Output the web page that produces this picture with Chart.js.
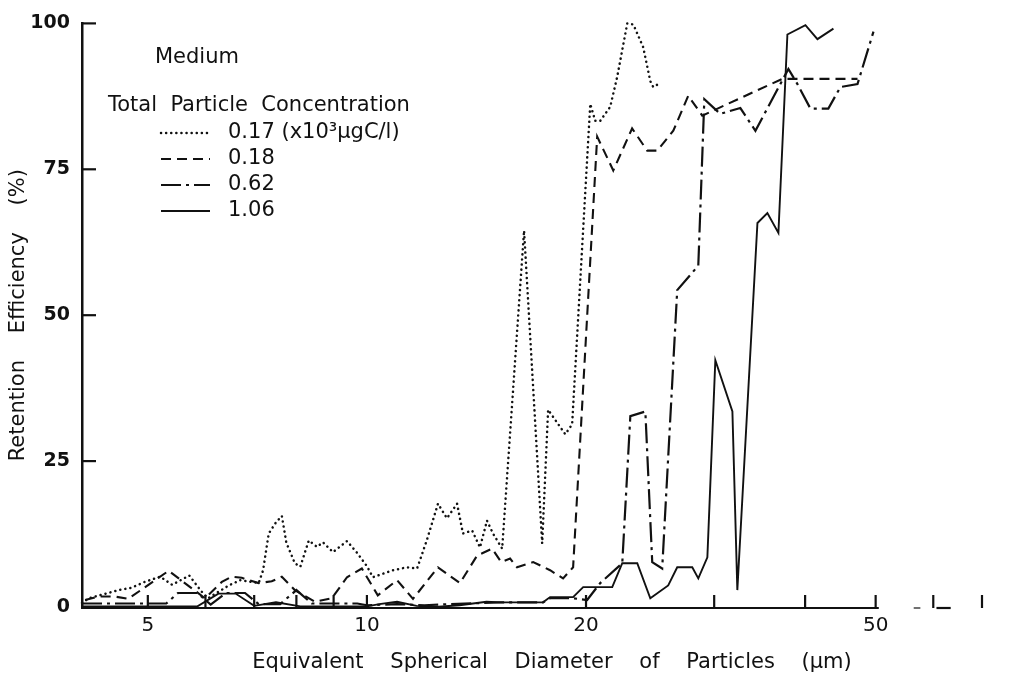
<!DOCTYPE html>
<html>
<head>
<meta charset="utf-8">
<script src="https://cdn.jsdelivr.net/npm/chart.js@4/dist/chart.umd.min.js"></script>
<style>
html,body{margin:0;padding:0;background:#ffffff;}
#wrap{width:1016px;height:680px;position:relative;}
canvas{display:block;}
</style>
</head>
<body>
<div id="wrap"><canvas id="c" width="1016" height="680"></canvas></div>
<script>
// ---- data ----
const conc017X = [4.06, 4.15, 4.56, 4.75, 4.95, 5.2, 5.4, 5.7, 5.93, 6.05, 6.46, 6.7, 7.1, 7.2, 7.33, 7.5, 7.64, 7.75, 7.96, 8.1, 8.32, 8.54, 8.7, 8.98, 9.39, 9.69, 10.0, 10.19, 10.86, 11.35, 11.72, 12.09, 12.52, 12.88, 13.3, 13.55, 13.95, 14.3, 14.62, 14.9, 15.34, 16.44, 17.41, 17.74, 18.73, 19.14, 20.27, 20.59, 20.92, 21.59, 22.07, 22.79, 23.23, 23.97, 24.51, 24.74, 25.13];
const conc017Y = [0.7, 1.5, 2.9, 3.3, 4.3, 5.2, 3.8, 5.4, 2.6, 1.5, 3.7, 4.6, 4.1, 6.3, 12.6, 14.5, 15.6, 11.0, 7.5, 6.9, 11.4, 10.3, 11.1, 9.4, 11.3, 9.3, 7.0, 5.1, 6.3, 6.8, 6.6, 11.5, 17.7, 15.2, 17.7, 12.6, 13.1, 10.2, 14.8, 12.6, 10.0, 64.5, 10.9, 33.8, 29.6, 31.3, 86.2, 83.3, 83.3, 85.7, 90.8, 100, 99.8, 95.9, 90.1, 89.1, 89.6];

const conc018X = [4.1, 4.28, 4.50, 4.70, 5.34, 5.99, 6.32, 6.52, 6.73, 7.10, 7.40, 7.64, 7.96, 8.48, 8.95, 9.39, 9.84, 10.35, 11.0, 11.57, 12.52, 13.42, 14.17, 14.86, 15.29, 15.73, 16.08, 16.92, 17.85, 18.60, 19.20, 20.72, 21.80, 23.14, 24.27, 25.06, 26.36, 27.64, 28.89, 37.23, 47.21];
const conc018Y = [1.2, 1.8, 1.8, 1.4, 6.2, 1.5, 4.3, 5.2, 5.0, 4.1, 4.4, 5.2, 2.9, 0.9, 1.5, 5.1, 6.6, 2.0, 4.6, 1.4, 6.8, 4.1, 8.8, 10.0, 7.7, 8.3, 6.8, 7.7, 6.3, 4.9, 6.8, 80.6, 74.8, 82.0, 78.2, 78.2, 81.6, 87.6, 84.2, 90.5, 90.5];

const conc062X = [4.06, 5.3, 5.5, 5.85, 6.1, 6.4, 6.8, 7.1, 7.6, 8.0, 8.4, 9.7, 10.0, 11.0, 12.0, 13.0, 15.24, 17.46, 17.85, 19.2, 20.07, 20.92, 22.43, 23.01, 24.13, 24.66, 25.45, 26.69, 28.53, 29.08, 30.59, 32.59, 34.18, 37.94, 39.04, 40.68, 43.05, 44.73, 47.21, 49.66];
const conc062Y = [0.6, 0.6, 2.4, 2.4, 0.4, 2.4, 2.4, 0.5, 0.5, 2.9, 0.6, 0.6, 0.3, 0.5, 0.3, 0.5, 0.8, 0.8, 1.5, 1.5, 1.2, 4.1, 7.5, 32.7, 33.5, 7.7, 6.6, 54.3, 58.5, 87.0, 84.5, 85.5, 81.6, 92.2, 89.6, 85.4, 85.4, 89.1, 89.6, 98.6];

const conc106X = [4.06, 5.85, 6.25, 6.6, 7.0, 7.5, 8.1, 10.0, 10.4, 11.0, 11.7, 12.4, 13.4, 14.6, 15.24, 17.46, 17.85, 19.2, 19.82, 21.73, 22.43, 23.52, 24.51, 25.94, 26.69, 27.99, 28.53, 29.36, 30.11, 31.78, 32.28, 34.40, 35.50, 36.76, 37.82, 40.04, 41.59, 43.75];
const conc106Y = [0.1, 0.1, 2.3, 2.3, 0.2, 0.8, 0.1, 0.1, 0.5, 0.9, 0.2, 0.0, 0.3, 0.9, 0.8, 0.8, 1.7, 1.7, 3.4, 3.4, 7.5, 7.5, 1.5, 3.7, 6.8, 6.8, 4.9, 8.5, 42.3, 33.5, 2.9, 65.8, 67.5, 64.1, 98.1, 99.7, 97.3, 99.1];

const seriesLabels = ['0.17', '0.18', '0.62', '1.06'];
const unitLabel = '(x10\u00B3\u00B5gC/l)';
const yTickValues = [0, 25, 50, 75, 100];
const xTickValues = [5, 6, 7, 8, 9, 10, 20, 30, 40, 50, 60, 70];
const xLabelledTicks = [5, 10, 20, 50];
const xMin = 4.06, xMax = 70, yMin = 0, yMax = 100;

// ---- styling ----
const INK = '#111111';
const FONT = '"DejaVu Sans", sans-serif';

function pts(xs, ys) { return xs.map((x, i) => ({ x: x, y: ys[i] })); }

const datasets = [
  { label: seriesLabels[0], data: pts(conc017X, conc017Y), borderColor: INK, borderWidth: 2.5, borderDash: [0.1, 5], borderCapStyle: 'round' },
  { label: seriesLabels[1], data: pts(conc018X, conc018Y), borderColor: INK, borderWidth: 2.1, borderDash: [10, 6], borderCapStyle: 'butt' },
  { label: seriesLabels[2], data: pts(conc062X, conc062Y), borderColor: INK, borderWidth: 2.2, borderDash: [20, 5, 3, 5], borderCapStyle: 'butt' },
  { label: seriesLabels[3], data: pts(conc106X, conc106Y), borderColor: INK, borderWidth: 1.9, borderDash: [], borderCapStyle: 'butt' }
].map(d => Object.assign(d, { pointRadius: 0, pointHoverRadius: 0, tension: 0, fill: false, clip: 6, borderJoinStyle: 'miter' }));

// inward ticks, broken x-axis line, custom legend and x title
const decorations = {
  id: 'decorations',
  afterDraw(chart) {
    const { ctx, scales } = chart;
    const xs = scales.x, ys = scales.y;
    ctx.save();
    ctx.strokeStyle = INK;
    ctx.fillStyle = INK;
    ctx.setLineDash([]);
    // x axis line (broken beyond 50 like the original)
    const yb = ys.getPixelForValue(0) + 1;
    ctx.lineWidth = 2.2;
    const axisPieces = [[xMin, 50.5], [60.8, 63.4]];
    axisPieces.forEach(p => {
      ctx.beginPath();
      ctx.moveTo(xs.getPixelForValue(p[0]) - 1, yb);
      ctx.lineTo(xs.getPixelForValue(p[1]), yb);
      ctx.stroke();
    });
    ctx.lineWidth = 1.2;
    ctx.beginPath();
    ctx.moveTo(xs.getPixelForValue(56.4), yb); ctx.lineTo(xs.getPixelForValue(57.6), yb);
    ctx.stroke();
    // x ticks pointing inward
    ctx.lineWidth = 2.2;
    xTickValues.forEach(v => {
      const px = xs.getPixelForValue(v);
      ctx.beginPath(); ctx.moveTo(px, yb); ctx.lineTo(px, yb - 13); ctx.stroke();
    });
    // y ticks pointing inward
    const xl = xs.getPixelForValue(xMin);
    yTickValues.filter(v => v > 0).forEach(v => {
      const py = ys.getPixelForValue(v);
      ctx.beginPath(); ctx.moveTo(xl, py); ctx.lineTo(xl + 14, py); ctx.stroke();
    });
    // legend
    ctx.textBaseline = 'middle';
    ctx.textAlign = 'left';
    ctx.font = '21px ' + FONT;
    ctx.fillText('Medium', 155, 58);
    ctx.fillText('Total  Particle  Concentration', 108, 106);
    const rowY = [133, 159, 185, 211];
    chart.data.datasets.forEach((d, i) => {
      ctx.save();
      ctx.lineWidth = d.borderWidth;
      ctx.lineCap = d.borderCapStyle;
      ctx.setLineDash(d.borderDash);
      ctx.beginPath(); ctx.moveTo(161, rowY[i]); ctx.lineTo(210, rowY[i]); ctx.stroke();
      ctx.restore();
      ctx.fillText(d.label + (i === 0 ? ' ' + unitLabel : ''), 228, rowY[i]);
    });
    // x axis title
    ctx.textAlign = 'center';
    ctx.font = '21px ' + FONT;
    ctx.fillText('Equivalent    Spherical    Diameter    of    Particles    (\u00B5m)', 552, 663);
    ctx.restore();
  }
};

new Chart(document.getElementById('c'), {
  type: 'line',
  data: { datasets: datasets },
  options: {
    responsive: false,
    animation: false,
    devicePixelRatio: 1,
    layout: { padding: { left: 0, right: 34, top: 19, bottom: 0 } },
    plugins: { legend: { display: false }, tooltip: { enabled: false }, title: { display: false } },
    scales: {
      x: {
        type: 'logarithmic',
        min: xMin, max: xMax,
        afterFit: s => { s.height = 73; },
        afterBuildTicks: s => { s.ticks = xTickValues.map(v => ({ value: v })); },
        grid: { display: false, drawTicks: false },
        border: { display: false },
        ticks: {
          autoSkip: false, maxRotation: 0, minRotation: 0, padding: 7, color: INK,
          font: { family: FONT, size: 20 },
          callback: v => xLabelledTicks.includes(v) ? String(v) : ''
        }
      },
      y: {
        type: 'linear',
        min: yMin, max: yMax,
        afterFit: s => { s.width = 82; },
        afterBuildTicks: s => { s.ticks = yTickValues.map(v => ({ value: v })); },
        grid: { display: false, drawTicks: false },
        border: { display: true, color: INK, width: 2.5 },
        ticks: { padding: 12, color: INK, font: { family: FONT, size: 19, weight: 'bold' } },
        title: { display: true, text: 'Retention    Efficiency    (%)', color: INK, font: { family: FONT, size: 21 }, padding: { top: 6, bottom: 0 } }
      }
    }
  },
  plugins: [decorations]
});
</script>
</body>
</html>
